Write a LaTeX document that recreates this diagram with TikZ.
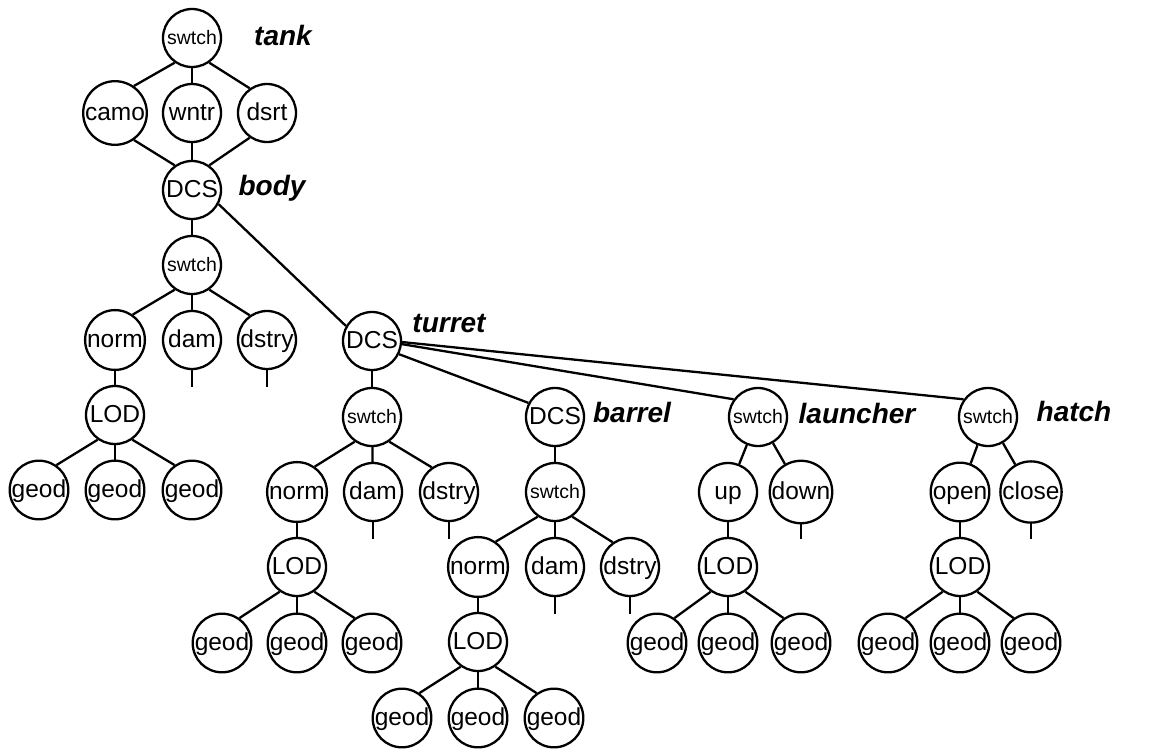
\documentclass[tikz,border=0pt]{standalone}
\usepackage{fontspec}
\setmainfont{Liberation Sans}

\begin{document}
\begin{tikzpicture}[x=1pt,y=-1pt]
			\tikzset{vertex/.style = {shape=circle,draw,line width=2.3pt,
					minimum size=58pt, inner sep = 0pt,
					font=\fontsize{24.5}{28}\selectfont,
					text height=18pt, text depth=4pt}}
			\tikzset{vertexSw/.style = {vertex,
					font=\fontsize{19.5}{22}\selectfont,
					text height=15pt, text depth=3pt}}
			\tikzset{edge/.style = {line width=2.3pt}}
			\tikzset{tag/.style = {anchor=base,
					font=\fontsize{28}{32}\selectfont\bfseries\itshape}}

		\useasboundingbox (0,0) rectangle (1149,748);

		% vertices
		\node[vertexSw] (s1) at (192,38) {swtch};
		\node[vertex] (camo) at (115,113) {camo};
		\node[vertex] (wntr) at (192,113) {wntr};
		\node[vertex] (dsrt) at (267,113) {dsrt};
		\node[vertex] (bd) at (192,190) {DCS};
		\node[vertexSw] (s2) at (192,265) {swtch};
		\node[vertex] (n1) at (115,340) {norm};
		\node[vertex] (dm1) at (192,340) {dam};
		\node[vertex] (ds1) at (267,340) {dstry};
		\node[vertex] (l1) at (115,415) {LOD};
		\node[vertex] (g11) at (39,490) {geod};
		\node[vertex] (g12) at (115,490) {geod};
		\node[vertex] (g13) at (192,490) {geod};

		\node[vertex] (tu) at (372,341) {DCS};
		\node[vertexSw] (s3) at (372,417) {swtch};
		\node[vertex] (n2) at (297,492) {norm};
		\node[vertex] (dm2) at (373,492) {dam};
		\node[vertex] (ds2) at (449,492) {dstry};
		\node[vertex] (l2) at (297,567) {LOD};
		\node[vertex] (g21) at (222,643) {geod};
		\node[vertex] (g22) at (297,643) {geod};
		\node[vertex] (g23) at (372,643) {geod};

		\node[vertex] (br) at (555,417) {DCS};
		\node[vertexSw] (s4) at (555,492) {swtch};
		\node[vertex] (n3) at (478,567) {norm};
		\node[vertex] (dm3) at (555,567) {dam};
		\node[vertex] (ds3) at (630,567) {dstry};
		\node[vertex] (l3) at (478,642) {LOD};
		\node[vertex] (g31) at (402,718) {geod};
		\node[vertex] (g32) at (478,718) {geod};
		\node[vertex] (g33) at (554,718) {geod};

		\node[vertexSw] (s5) at (758,417) {swtch};
		\node[vertex] (up) at (728,492) {up};
		\node[vertex] (dn) at (801,492) {down};
		\node[vertex] (l4) at (728,567) {LOD};
		\node[vertex] (g41) at (657,643) {geod};
		\node[vertex] (g42) at (728,643) {geod};
		\node[vertex] (g43) at (801,643) {geod};

		\node[vertexSw] (s6) at (988,417) {swtch};
		\node[vertex] (op) at (960,492) {open};
		\node[vertex] (cl) at (1031,492) {close};
		\node[vertex] (l5) at (960,567) {LOD};
		\node[vertex] (g51) at (888,643) {geod};
		\node[vertex] (g52) at (960,643) {geod};
		\node[vertex] (g53) at (1031,643) {geod};

		% loose ends
		\coordinate (e1) at (192,387);
		\coordinate (e2) at (267,387);
		\coordinate (e3) at (373,539);
		\coordinate (e4) at (449,539);
		\coordinate (e5) at (555,614);
		\coordinate (e6) at (630,614);
		\coordinate (e7) at (801,539);
		\coordinate (e8) at (1031,539);

		\node[tag] at (283,45) {tank};
		\node[tag] at (272,195) {body};
		\node[tag] at (449,332) {turret};
		\node[tag] at (632,422) {barrel};
		\node[tag] at (857,423) {launcher};
		\node[tag] at (1074,421) {hatch};

		%edges
		\draw[edge] (s1.235) to (camo.55);
		\draw[edge] (s1) to (wntr);
		\draw[edge] (s1.305) to (dsrt.125);
		\draw[edge] (camo.305) to (bd.125);
		\draw[edge] (wntr) to (bd);
		\draw[edge] (dsrt.235) to (bd.55);
		\draw[edge] (bd) to (s2);
		\draw[edge] (bd.-28) to (tu.150);
		\draw[edge] (s2.235) to (n1.55);
		\draw[edge] (s2) to (dm1);
		\draw[edge] (s2.305) to (ds1.125);
		\draw[edge] (n1) to (l1);
		\draw[edge] (dm1) to (e1);
		\draw[edge] (ds1) to (e2);
		\draw[edge] (l1.235) to (g11.55);
		\draw[edge] (l1) to (g12);
		\draw[edge] (l1.305) to (g13.125);

		\draw[edge] (tu) to (s3);
		\draw[edge] (tu.-26) to (br.152);
		\draw[edge] (tu.-6) to (s5.144);
		\draw[edge] (tu.-2) to (s6.144);
		\draw[edge] (s3.235) to (n2.55);
		\draw[edge] (s3) to (dm2);
		\draw[edge] (s3.305) to (ds2.125);
		\draw[edge] (n2) to (l2);
		\draw[edge] (dm2) to (e3);
		\draw[edge] (ds2) to (e4);
		\draw[edge] (l2.235) to (g21.55);
		\draw[edge] (l2) to (g22);
		\draw[edge] (l2.305) to (g23.125);

		\draw[edge] (br) to (s4);
		\draw[edge] (s4.235) to (n3.55);
		\draw[edge] (s4) to (dm3);
		\draw[edge] (s4.305) to (ds3.125);
		\draw[edge] (n3) to (l3);
		\draw[edge] (dm3) to (e5);
		\draw[edge] (ds3) to (e6);
		\draw[edge] (l3.235) to (g31.55);
		\draw[edge] (l3) to (g32);
		\draw[edge] (l3.305) to (g33.125);

		\draw[edge] (s5) to (up);
		\draw[edge] (s5) to (dn);
		\draw[edge] (up) to (l4);
		\draw[edge] (dn) to (e7);
		\draw[edge] (l4.235) to (g41.55);
		\draw[edge] (l4) to (g42);
		\draw[edge] (l4.305) to (g43.125);

		\draw[edge] (s6) to (op);
		\draw[edge] (s6) to (cl);
		\draw[edge] (op) to (l5);
		\draw[edge] (cl) to (e8);
		\draw[edge] (l5.235) to (g51.55);
		\draw[edge] (l5) to (g52);
		\draw[edge] (l5.305) to (g53.125);

\end{tikzpicture}
\end{document}
